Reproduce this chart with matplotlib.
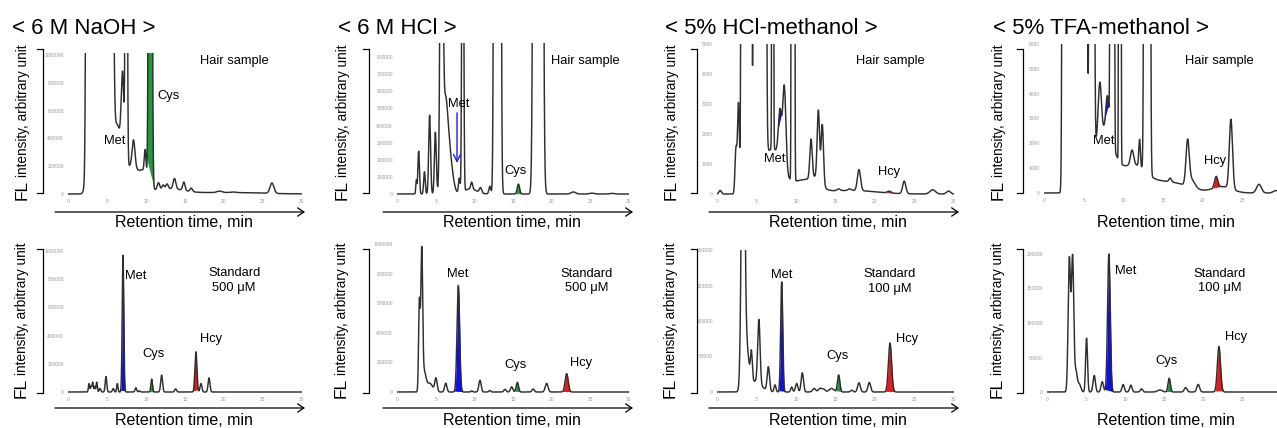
import numpy as np
import matplotlib
matplotlib.use("Agg")
import matplotlib.pyplot as plt
from matplotlib.ticker import FuncFormatter

plt.rcParams['font.family'] = ['Liberation Sans', 'DejaVu Sans']

# ---------------------------------------------------------------------------
# Peak tables: (retention time [min], height [FL units], sigma [min])
# ---------------------------------------------------------------------------
naoh_hair_peaks = [
    (2.45, 5e6, 0.12), (3.3, 8e6, 0.4), (4.4, 8e6, 0.4), (5.5, 6e6, 0.2),
    (6.2, 4.5e5, 0.6), (7.0, 5.75e5, 0.17), (7.47, 5e6, 0.1), (8.4, 1.9e5, 0.18),
    (8.2, 2e5, 1.2), (9.6, 6e4, 0.3), (9.9, 2e5, 0.12), (10.55, 1.2e7, 0.14),
    (11.6, 5e4, 0.15), (12.2, 3e4, 0.15), (12.7, 3.5e4, 0.15), (13.65, 7.5e4, 0.17),
    (14.85, 6e4, 0.15), (15.8, 2.5e4, 0.15), (13.0, 3.5e4, 1.8), (20.0, 1.1e4, 4.5),
    (19.4, 1e4, 0.3), (21.2, 4e3, 0.3), (26.15, 7.5e4, 0.25),
]
hcl_hair_peaks = [
    (2.5, 8e4, 0.07), (2.8, 2.5e5, 0.1), (3.55, 1.3e5, 0.1), (4.22, 4.6e5, 0.12),
    (4.96, 3.6e5, 0.12), (5.75, 3e6, 0.15), (6.2, 5e5, 0.35), (6.8, 2e5, 0.4),
    (8.05, 8.5e4, 0.1), (8.5, 3e6, 0.1), (9.5, 3e4, 0.8), (9.65, 4e4, 0.12),
    (10.8, 3e4, 0.15), (12.0, 4.5e4, 0.12), (12.98, 1e8, 0.18), (15.7, 5.8e4, 0.15),
    (18.25, 1e8, 0.25), (22.8, 1.2e4, 0.3), (25.2, 5e3, 0.3), (27.8, 4e3, 0.3),
]
hclmeoh_hair_peaks = [
    (0.4, 120, 0.15), (2.4, 1500, 0.12), (2.72, 3000, 0.12), (3.3, 1.5e5, 0.12),
    (3.75, 1e5, 0.2), (4.1, 5.2e5, 0.12), (4.9, 5.2e5, 0.12), (5.6, 1e5, 0.25),
    (6.0, 1e5, 0.12), (7.0, 1500, 1.2), (7.05, 1e5, 0.06), (7.97, 1650, 0.2),
    (8.52, 2800, 0.2), (9.62, 1e6, 0.08), (11.0, 450, 1.5), (11.9, 1300, 0.15),
    (12.6, 250, 0.6), (12.83, 2300, 0.15), (13.33, 2000, 0.15), (15.4, 60, 0.2),
    (16.8, 50, 0.2), (17.0, 120, 3.0), (17.97, 700, 0.2), (21.8, 60, 0.25),
    (23.7, 420, 0.2), (27.3, 140, 0.35), (29.3, 100, 0.25),
]
tfameoh_hair_peaks = [
    (2.7, 1e6, 0.15), (3.5, 1e6, 0.3), (4.4, 1e6, 0.3), (5.1, 1.9e5, 0.15),
    (6.02, 1.9e5, 0.15), (7.5, 2500, 1.3), (7.03, 2100, 0.2), (8.0, 1500, 0.2),
    (8.6, 1e6, 0.1), (9.56, 1e6, 0.06), (11.3, 1000, 1.5), (11.1, 590, 0.2),
    (12.05, 1100, 0.1), (13.0, 1e6, 0.15), (15.5, 450, 2.5), (15.9, 150, 0.15),
    (18.1, 1700, 0.2), (18.55, 350, 0.45), (22.5, 250, 1.2), (21.7, 450, 0.2),
    (23.56, 2800, 0.2), (27.1, 350, 0.3), (29.2, 100, 0.3),
]
naoh_std_peaks = [
    (2.7, 6e4, 0.08), (2.95, 4e4, 0.07), (3.16, 7e4, 0.08), (3.42, 4e4, 0.07),
    (3.68, 7e4, 0.08), (4.1, 2.5e4, 0.1), (4.87, 1.1e5, 0.1), (5.8, 2.5e4, 0.1),
    (6.32, 6e4, 0.08), (7.05, 9.7e5, 0.1), (8.7, 3e4, 0.1), (9.15, 8e3, 0.1),
    (10.73, 9.2e4, 0.1), (12.0, 1.2e5, 0.12), (13.8, 2.2e4, 0.12), (16.4, 2.85e5, 0.13),
    (17.05, 6e4, 0.12), (18.08, 1e5, 0.12),
]
hcl_std_peaks = [
    (2.89, 6e5, 0.1), (3.2, 9.5e5, 0.12), (3.55, 1.2e5, 0.2), (4.2, 6e4, 0.4),
    (5.04, 9e4, 0.15), (6.3, 6e4, 0.15), (7.93, 7.2e5, 0.17), (9.66, 8e3, 0.1),
    (10.73, 8e4, 0.15), (12.0, 1e4, 0.12), (13.97, 1.8e4, 0.15), (14.83, 3.5e4, 0.15),
    (15.56, 6.5e4, 0.15), (17.6, 2e4, 0.15), (19.35, 5.8e4, 0.18), (21.94, 1.24e5, 0.2),
]
hclmeoh_std_peaks = [
    (3.3, 5e5, 0.2), (3.8, 5e4, 0.25), (4.35, 4.2e4, 0.12), (4.8, 1.5e4, 0.8),
    (5.3, 9e4, 0.15), (6.5, 3.4e4, 0.15), (7.34, 1e4, 0.12), (8.19, 1.55e5, 0.13),
    (9.45, 7e3, 0.12), (10.08, 1.2e4, 0.15), (10.8, 2.7e4, 0.15), (12.3, 5e3, 0.2),
    (13.04, 5e3, 0.2), (13.5, 4e3, 0.2), (14.5, 5e3, 0.3), (15.4, 2.4e4, 0.15),
    (17.05, 2.5e3, 0.15), (17.97, 1.3e4, 0.17), (19.28, 1.35e4, 0.17), (21.9, 6.9e4, 0.2),
]
tfameoh_std_peaks = [
    (2.85, 1.92e5, 0.15), (3.27, 1.95e5, 0.15), (3.7, 2.8e4, 0.15), (4.1, 1.2e4, 0.2),
    (5.05, 7.8e4, 0.12), (6.03, 2.4e4, 0.15), (7.05, 1.5e4, 0.15), (7.9, 2e5, 0.17),
    (9.72, 1.1e4, 0.15), (10.7, 1e4, 0.15), (12.06, 4.5e3, 0.15), (14.4, 3e3, 0.3),
    (15.6, 2e4, 0.15), (17.7, 6.5e3, 0.18), (19.3, 1.1e4, 0.18), (21.95, 6.6e4, 0.2),
]

# Integrated regions (start, end, compound), baseline drawn valley to valley
naoh_hair_fills = [(6.45, 7.05, "Met"), (9.95, 11.05, "Cys")]
hcl_hair_fills = [(7.72, 8.12, "Met"), (15.3, 16.1, "Cys")]
hclmeoh_hair_fills = [(7.28, 8.2, "Met"), (21.2, 22.4, "Hcy")]
tfameoh_hair_fills = [(7.53, 8.15, "Met"), (21.2, 22.3, "Hcy")]
naoh_std_fills = [(6.75, 7.35, "Met"), (10.45, 11.0, "Cys"), (16.0, 16.85, "Hcy")]
hcl_std_fills = [(7.4, 8.5, "Met"), (15.2, 15.95, "Cys"), (21.4, 22.5, "Hcy")]
hclmeoh_std_fills = [(7.8, 8.6, "Met"), (15.0, 15.8, "Cys"), (21.3, 22.5, "Hcy")]
tfameoh_std_fills = [(7.4, 8.5, "Met"), (15.2, 16.0, "Cys"), (21.4, 22.5, "Hcy")]

# Peak labels (text, retention time, intensity)
naoh_hair_labels = [("Hair sample", 21.3, 9.57e5), ("Cys", 12.9, 7.05e5), ("Met", 5.96, 3.8e5)]
hcl_hair_labels = [("Hair sample", 24.3, 7.78e5), ("Met", 8.0, 5.26e5), ("Cys", 15.3, 1.35e5)]
hclmeoh_hair_labels = [("Hair sample", 21.9, 4433), ("Met", 7.34, 1167), ("Hcy", 21.8, 733)]
tfameoh_hair_labels = [("Hair sample", 22.1, 5320), ("Met", 7.5, 2097), ("Hcy", 21.6, 1290)]
naoh_std_labels = [("Standard\n500 \u03bcM", 21.3, 7.9e5), ("Met", 8.7, 8.2e5),
                   ("Cys", 10.9, 2.7e5), ("Hcy", 18.3, 3.76e5)]
hcl_std_labels = [("Standard\n500 \u03bcM", 24.5, 7.5e5), ("Met", 7.8, 8.0e5),
                  ("Cys", 15.3, 1.8e5), ("Hcy", 23.8, 1.96e5)]
hclmeoh_std_labels = [("Standard\n100 \u03bcM", 21.9, 1.56e5), ("Met", 8.2, 1.65e5),
                      ("Cys", 15.3, 5.07e4), ("Hcy", 24.0, 7.46e4)]
tfameoh_std_labels = [("Standard\n100 \u03bcM", 22.0, 1.61e5), ("Met", 10.1, 1.75e5),
                      ("Cys", 15.3, 4.5e4), ("Hcy", 24.1, 8.0e4)]

# Met pointer in the 6 M HCl hair trace: (time, from intensity, to intensity)
hcl_met_pointer = (7.76, 4.74e5, 1.81e5)

conditions = ["< 6 M NaOH >", "< 6 M HCl >", "< 5% HCl-methanol >", "< 5% TFA-methanol >"]
x_ticks = [0, 5, 10, 15, 20, 25, 30]
yticks_naoh_hair = [0, 200000, 400000, 600000, 800000, 1000000]
yticks_hcl_hair = [0, 100000, 200000, 300000, 400000, 500000, 600000, 700000, 800000]
yticks_hclmeoh_hair = [0, 1000, 2000, 3000, 4000, 5000]
yticks_tfameoh_hair = [0, 1000, 2000, 3000, 4000, 5000, 6000]
yticks_naoh_std = [0, 200000, 400000, 600000, 800000, 1000000]
yticks_hcl_std = [0, 200000, 400000, 600000, 800000, 1000000]
yticks_hclmeoh_std = [0, 50000, 100000, 150000, 200000]
yticks_tfameoh_std = [0, 50000, 100000, 150000, 200000]

fill_colors = {"Met": "#0c0cf5", "Cys": "#1f9a3c", "Hcy": "#e81a1a"}

# ---------------------------------------------------------------------------
# Layout (pixel geometry of every panel)
# x0/x30: pixel of t=0 / t=30; y0: pixel of zero; yref at value ref; ytop: clip edge
# ---------------------------------------------------------------------------
W, H = 1277, 428
panels = [
    dict(peaks=naoh_hair_peaks, fills=naoh_hair_fills, labels=naoh_hair_labels,
         yticks=yticks_naoh_hair, x0=68, x30=302, y0=194, yref=55, ref=1e6, ytop=53),
    dict(peaks=hcl_hair_peaks, fills=hcl_hair_fills, labels=hcl_hair_labels,
         yticks=yticks_hcl_hair, x0=397, x30=629, y0=194, yref=57, ref=8e5, ytop=43),
    dict(peaks=hclmeoh_hair_peaks, fills=hclmeoh_hair_fills, labels=hclmeoh_hair_labels,
         yticks=yticks_hclmeoh_hair, x0=717, x30=954, y0=194, yref=44, ref=5000, ytop=43.5),
    dict(peaks=tfameoh_hair_peaks, fills=tfameoh_hair_fills, labels=tfameoh_hair_labels,
         yticks=yticks_tfameoh_hair, x0=1044, x30=1282, y0=193, yref=44, ref=6000, ytop=43.5),
    dict(peaks=naoh_std_peaks, fills=naoh_std_fills, labels=naoh_std_labels,
         yticks=yticks_naoh_std, x0=68, x30=302, y0=392, yref=251, ref=1e6, ytop=246),
    dict(peaks=hcl_std_peaks, fills=hcl_std_fills, labels=hcl_std_labels,
         yticks=yticks_hcl_std, x0=397, x30=629, y0=392, yref=244, ref=1e6, ytop=240),
    dict(peaks=hclmeoh_std_peaks, fills=hclmeoh_std_fills, labels=hclmeoh_std_labels,
         yticks=yticks_hclmeoh_std, x0=717, x30=954, y0=392, yref=250, ref=2e5, ytop=249.5),
    dict(peaks=tfameoh_std_peaks, fills=tfameoh_std_fills, labels=tfameoh_std_labels,
         yticks=yticks_tfameoh_std, x0=1047, x30=1282, y0=392, yref=254, ref=2e5, ytop=252),
]
col_title_x = [12, 338, 665, 993]
col_bracket_x = [43, 369, 697, 1023]
col_label_x = [27, 347, 676, 1003]
col_arrow_x = [55, 383, 709, 1037]

fig = plt.figure(figsize=(W / 100, H / 100), dpi=100)
t = np.linspace(0, 30, 6001)


def chromatogram(peaks):
    y = np.zeros_like(t)
    for c, h, s in peaks:
        y += h * np.exp(-0.5 * ((t - c) / s) ** 2)
    return y


int_fmt = FuncFormatter(lambda v, p: f"{int(round(v))}")

axes = []
for p in panels:
    ybot = p["y0"] + 3
    ppv = (p["y0"] - p["yref"]) / p["ref"]
    ax = fig.add_axes([p["x0"] / W, 1 - ybot / H, (p["x30"] - p["x0"]) / W,
                       (ybot - p["ytop"]) / H])
    ax.set_xlim(0, 30)
    ax.set_ylim(-(ybot - p["y0"]) / ppv, (p["y0"] - p["ytop"]) / ppv)
    y = chromatogram(p["peaks"])
    for a, b, name in p["fills"]:
        m = (t >= a) & (t <= b)
        ya, yb = np.interp([a, b], t, y)
        base = ya + (yb - ya) * (t[m] - a) / (b - a)
        ax.fill_between(t[m], base, y[m], where=y[m] >= base, interpolate=True,
                        color=fill_colors[name], lw=0, zorder=2)
    ax.plot(t, y, color="#2e2e2e", lw=1.05, zorder=3, solid_joinstyle="round")
    for text, tx, ty in p["labels"]:
        ax.text(tx, ty, text, ha="center", va="center", fontsize=9.3,
                linespacing=1.3, zorder=4)
    # tick labels that would fall past the figure edge are left out
    px_per_min = (p["x30"] - p["x0"]) / 30
    ax.set_xticks([v for v in x_ticks if p["x0"] + v * px_per_min < W - 4])
    ax.set_yticks(p["yticks"])
    ax.yaxis.set_major_formatter(int_fmt)
    ax.tick_params(length=0, labelsize=3.5, colors="#9a9a9a")
    ax.tick_params(axis="x", pad=1.5)
    ax.tick_params(axis="y", pad=3)
    for s in ax.spines.values():
        s.set_visible(False)
    ax.patch.set_alpha(0)
    axes.append(ax)

# Met pointer in the 6 M HCl hair trace
pt, pfrom, pto = hcl_met_pointer
axes[1].annotate("", xy=(pt, pto), xytext=(pt, pfrom),
                 arrowprops=dict(arrowstyle="->,head_length=0.5,head_width=0.25",
                                 color="#1a1aff", lw=1.0, shrinkA=0, shrinkB=0))

# Overlay in pixel coordinates for titles, brackets and axis captions
ov = fig.add_axes([0, 0, 1, 1], zorder=5)
ov.set_xlim(0, W)
ov.set_ylim(H, 0)
ov.axis("off")
renderer = fig.canvas.get_renderer()

for i, title in enumerate(conditions):
    ov.text(col_title_x[i], 34, title, fontsize=16, ha="left", va="baseline")

for row, (btop, bbot, lab_base, arrow_y, cap_y) in enumerate(
        [(49, 193, 200, 212, 227), (249, 393, 398, 408, 425)]):
    for i in range(4):
        xb = col_bracket_x[i]
        ov.plot([xb - 6, xb, xb, xb - 6], [btop, btop, bbot, bbot],
                color="black", lw=0.9)
        xl = col_label_x[i] - (1 if row else 0)
        t1 = ov.text(xl, lab_base, "FL", fontsize=12.5, rotation=90,
                     rotation_mode="anchor", ha="left", va="baseline")
        ln = t1.get_window_extent(renderer).height
        ov.text(xl, lab_base - ln - 3, "intensity, arbitrary unit", fontsize=9.8,
                rotation=90, rotation_mode="anchor", ha="left", va="baseline")
        xa = col_arrow_x[i]
        ov.annotate("", xy=(xa + 250, arrow_y), xytext=(xa, arrow_y),
                    arrowprops=dict(arrowstyle="->,head_length=0.45,head_width=0.3",
                                    color="black", lw=0.9, shrinkA=0, shrinkB=0))
        ov.text(xa + 129, cap_y, "Retention time, min", fontsize=11.5,
                ha="center", va="baseline")

fig.savefig("out.png", dpi=100)
